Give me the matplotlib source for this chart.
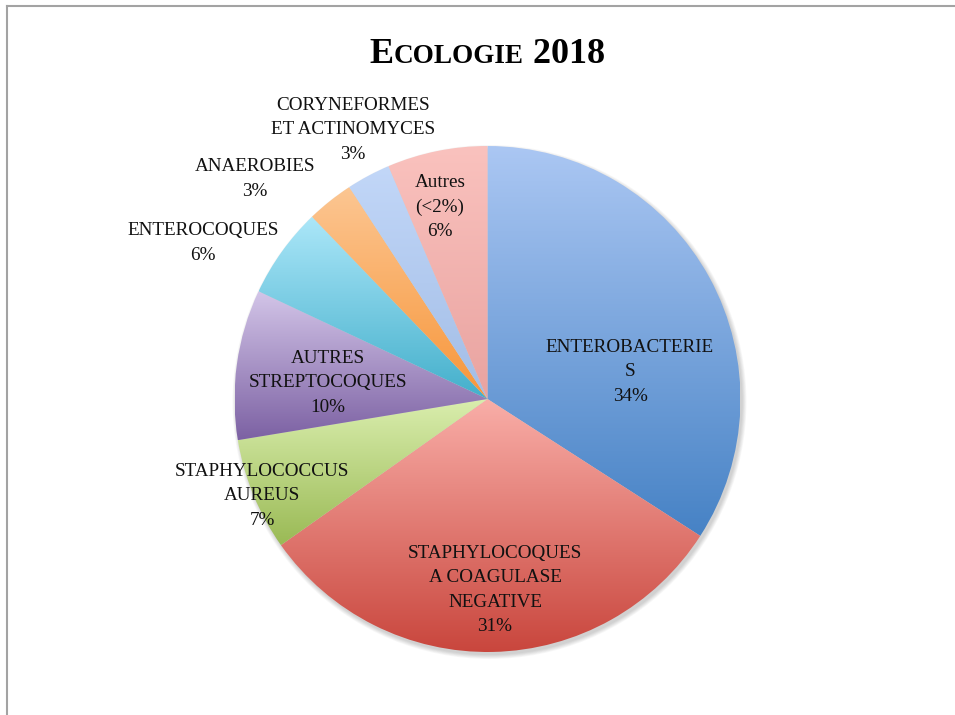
import numpy as np
import matplotlib.pyplot as plt
from matplotlib.colors import to_rgb
from matplotlib.patches import Circle
from matplotlib.lines import Line2D

plt.rcParams['font.family'] = 'serif'
plt.rcParams['font.serif'] = ['Liberation Serif', 'DejaVu Serif']

# ---------------------------------------------------------------------------
# data (share of isolates, %), clockwise from 12 o'clock
# ---------------------------------------------------------------------------
categories = ['ENTEROBACTERIE\nS', 'STAPHYLOCOQUES\nA COAGULASE\nNEGATIVE',
              'STAPHYLOCOCCUS\nAUREUS', 'AUTRES\nSTREPTOCOQUES', 'ENTEROCOQUES',
              'ANAEROBIES', 'CORYNEFORMES\nET ACTINOMYCES', 'Autres\n(<2%)']
values = [34.1, 31.1, 7.2, 9.6, 5.8, 3.0, 2.8, 6.4]

# gradient colours (top -> bottom of each slice)
top_colors = ['#abc7f3', '#f9aea8', '#daeeae', '#d3c5e8', '#ace7f9',
              '#fcc692', '#c2d7f8', '#fac2be']
bottom_colors = ['#4682c5', '#c9463d', '#9aba55', '#7c61a3', '#43afcb',
                 '#f7963a', '#a2bde6', '#e9a3a0']

# label block centres in pixels (x from left, y from top)
label_xy = [(630, 372), (495, 590), (262, 496), (328, 383), (203, 243),
            (255, 179), (353, 130), (440, 207)]

W, H = 955, 715
fig = plt.figure(figsize=(W / 100, H / 100), dpi=100)
ax = fig.add_axes([0, 0, 1, 1])

cx, cy, R = 487.5, H - 399, 253

# soft shadow under the pie
for k in range(6):
    ax.add_patch(Circle((cx + 2, cy - 3), R + 0.8 * k, color='k', alpha=0.03,
                        lw=0, zorder=0))

wedges, _ = ax.pie(values, startangle=90, counterclock=False,
                   center=(cx, cy), radius=R, frame=True,
                   wedgeprops=dict(linewidth=0))

for w, c0, c1 in zip(wedges, top_colors, bottom_colors):
    ext = w.get_path().get_extents()
    t = np.linspace(0, 1, 256)[:, None, None]
    grad = (1 - t) * np.array(to_rgb(c1)) + t * np.array(to_rgb(c0))
    im = ax.imshow(grad, extent=(ext.x0, ext.x1, ext.y0, ext.y1),
                   origin='lower', aspect='auto', zorder=1,
                   interpolation='bilinear')
    im.set_clip_path(w)
    w.set_facecolor('none')

pcts = [f'{round(v):d}%' for v in values]
for name, pct, (x, y) in zip(categories, pcts, label_xy):
    ax.text(x, H - y, f'{name}\n{pct}', ha='center', va='center',
            fontsize=13.8, color='#111111', linespacing=1.55, zorder=3)

ax.set_xlim(0, W)
ax.set_ylim(0, H)
ax.axis('off')

# title with small caps: "E" + "COLOGIE" + " 2018"
pieces = [('E', 26), ('COLOGIE', 19.5), (' 2018', 26)]
fig.canvas.draw()
rend = fig.canvas.get_renderer()
widths = []
for s, fs in pieces:
    t = fig.text(0, 0, s, fontsize=fs, fontweight='bold')
    widths.append(t.get_window_extent(rend).width)
    t.remove()
x = 487.5 - sum(widths) / 2
for (s, fs), wd in zip(pieces, widths):
    fig.text(x / W, (H - 63) / H, s, fontsize=fs, fontweight='bold',
             ha='left', va='baseline')
    x += wd

# frame lines (top and left only, as in the original capture)
fig.add_artist(Line2D([7 / W, 1], [(H - 6) / H, (H - 6) / H],
                      transform=fig.transFigure, color='#a3a3a3', lw=1.5))
fig.add_artist(Line2D([7 / W, 7 / W], [0, (H - 6) / H],
                      transform=fig.transFigure, color='#a3a3a3', lw=1.5))

fig.savefig('out.png', dpi=100)
